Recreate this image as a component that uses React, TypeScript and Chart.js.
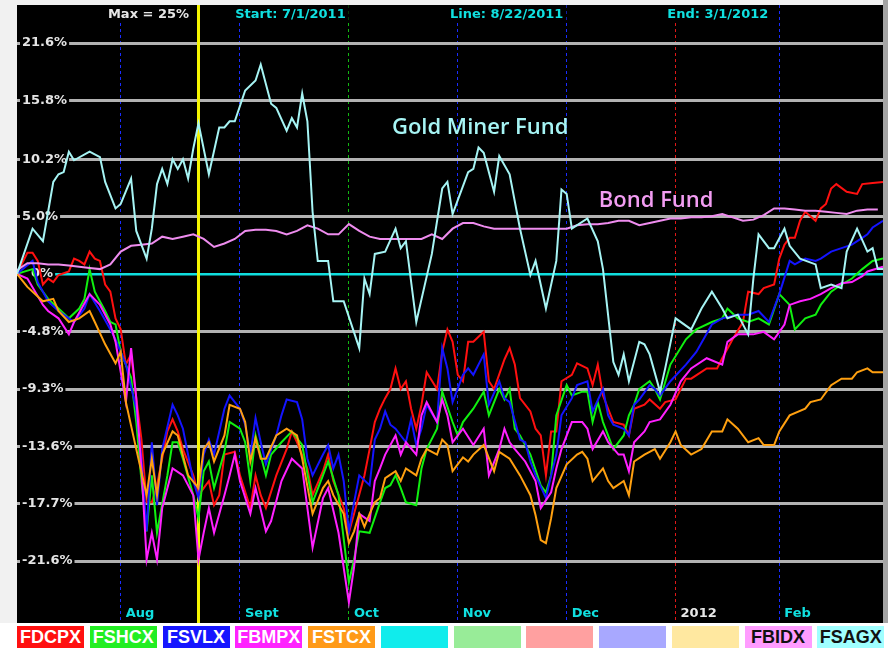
import React, { useEffect, useRef } from "react";
import { Chart, registerables } from "chart.js";
Chart.register(...registerables);

// Trading-day index (0 = 7/1/2011 ... 167 = 3/1/2012) and % change since 7/1/2011,
// each fund read at its own turning points.
const redDays = [
  0, 2, 3, 4, 5, 6, 7, 8, 10, 11, 12, 13, 14, 15, 16, 17, 18, 19, 20, 21,
  22, 23, 24, 25, 26, 27, 29, 30, 31, 32, 34, 35, 36, 37, 38, 39, 40, 42, 43, 45,
  46, 47, 48, 50, 52, 53, 54, 56, 57, 59, 60, 61, 63, 64, 65, 67, 68, 69, 70, 71,
  72, 73, 74, 75, 76, 77, 78, 79, 81, 82, 83, 84, 85, 86, 87, 88, 90, 91, 92, 94,
  95, 96, 97, 99, 100, 101, 102, 103, 104, 105, 107, 108, 110, 111, 112, 113, 115, 117, 118, 119,
  121, 122, 124, 125, 127, 129, 130, 133, 135, 136, 138, 140, 141, 143, 144, 146, 147, 148, 149, 150,
  151, 152, 154, 155, 156, 157, 158, 160, 162, 163, 165, 167,
];
const FDCPX = [
  0.0, 1.8, 1.8, 1.1, -0.9, -0.4, -0.7, -0.1, 0.2, 1.3, 1.1, 0.8, 1.9, 1.3, 1.1, -0.9, -1.5, -3.7, -4.6, -7.4,
  -6.6, -10.0, -13.1, -17.6, -17.6, -16.4, -12.5, -11.6, -12.5, -13.8, -15.7, -17.1, -16.6, -16.1, -17.8, -17.1, -14.2, -14.0, -15.7, -18.0,
  -15.7, -17.1, -18.0, -15.7, -13.8, -12.5, -13.3, -15.2, -17.1, -15.4, -14.2, -16.1, -18.0, -19.7, -18.4, -15.7, -13.8, -11.8, -10.8, -10.0,
  -9.3, -7.7, -9.3, -8.7, -10.8, -12.3, -10.5, -8.0, -9.3, -6.4, -4.6, -5.6, -8.2, -8.7, -5.6, -5.6, -4.8, -8.7, -9.3, -7.0,
  -6.1, -7.4, -10.0, -11.0, -12.3, -12.8, -15.7, -12.5, -12.5, -8.7, -8.2, -7.3, -7.7, -9.0, -7.4, -9.8, -11.8, -12.0, -12.8, -10.8,
  -10.5, -10.1, -10.8, -10.3, -10.1, -8.5, -8.5, -7.7, -7.7, -6.9, -5.4, -4.0, -1.5, -1.7, -1.2, -0.9, 1.3, 2.5, 3.1, 3.1,
  4.6, 5.4, 4.6, 5.7, 6.1, 7.5, 7.9, 7.2, 7.0, 7.9, 8.0, 8.1,
];

const greenDays = [
  0, 3, 4, 6, 8, 10, 12, 13, 14, 15, 17, 18, 19, 20, 22, 23, 24, 25, 26, 27,
  29, 30, 31, 32, 34, 35, 36, 37, 38, 40, 41, 43, 44, 45, 46, 48, 49, 51, 53, 55,
  57, 59, 60, 62, 64, 65, 66, 68, 70, 71, 72, 73, 74, 75, 77, 78, 79, 81, 82, 84,
  85, 86, 88, 90, 91, 93, 94, 95, 96, 97, 99, 101, 102, 103, 104, 106, 107, 109, 110, 111,
  112, 113, 115, 117, 118, 119, 120, 122, 123, 124, 126, 129, 131, 134, 136, 137, 139, 141, 143, 145,
  147, 149, 150, 152, 154, 155, 157, 159, 161, 163, 165, 167,
];
const FSHCX = [
  0.0, 0.4, -0.9, -2.1, -2.9, -3.7, -2.9, -2.1, 0.4, -1.5, -3.1, -4.0, -4.2, -6.4, -8.4, -11.8, -16.1, -19.6, -15.7, -19.7,
  -15.7, -13.3, -13.3, -14.5, -17.1, -18.7, -15.4, -14.7, -16.6, -14.0, -11.8, -12.3, -13.3, -16.1, -12.8, -15.7, -14.2, -13.3, -12.5, -13.5,
  -17.6, -15.7, -14.7, -17.1, -23.0, -21.5, -19.6, -19.7, -17.6, -16.6, -16.4, -15.7, -16.6, -17.6, -17.8, -15.2, -13.8, -12.3, -9.5, -11.8,
  -12.8, -11.8, -10.8, -9.5, -11.3, -9.3, -10.1, -9.3, -12.3, -12.8, -14.2, -16.4, -16.9, -15.7, -11.3, -9.0, -9.8, -9.5, -9.5, -11.8,
  -10.3, -11.8, -13.8, -12.8, -11.3, -10.5, -9.3, -8.7, -9.3, -10.1, -7.4, -5.4, -4.6, -4.0, -3.7, -2.9, -3.7, -4.0, -3.7, -4.2,
  -1.7, -2.6, -4.6, -3.7, -3.4, -2.6, -1.5, -0.9, -0.4, 0.4, 1.1, 1.3,
];

const blueDays = [
  0, 3, 4, 6, 8, 11, 13, 14, 16, 18, 19, 21, 23, 24, 25, 26, 27, 28, 30, 31,
  32, 34, 35, 36, 37, 38, 40, 41, 43, 44, 45, 46, 47, 48, 50, 51, 52, 54, 55, 56,
  57, 59, 60, 61, 62, 63, 64, 65, 66, 68, 69, 70, 71, 72, 73, 75, 76, 77, 78, 79,
  81, 82, 83, 84, 86, 87, 88, 90, 91, 93, 94, 95, 97, 98, 99, 100, 102, 103, 104, 105,
  107, 108, 110, 111, 113, 114, 115, 117, 118, 119, 120, 122, 123, 124, 126, 129, 131, 134, 136, 139,
  141, 143, 145, 147, 149, 150, 152, 154, 155, 157, 159, 161, 163, 164, 165, 167,
];
const FSVLX = [
  0.0, 1.1, -0.7, -2.3, -3.1, -4.0, -2.9, -1.7, -3.1, -4.6, -5.4, -7.4, -10.8, -14.5, -19.6, -13.3, -17.8, -13.8, -10.5, -11.3,
  -12.3, -16.1, -17.3, -14.2, -13.1, -14.2, -10.8, -9.8, -10.8, -12.0, -14.2, -11.5, -13.3, -14.9, -12.8, -11.3, -10.1, -10.3, -11.6, -14.5,
  -15.7, -14.2, -13.5, -15.2, -14.2, -16.1, -19.6, -17.6, -15.7, -16.4, -13.1, -12.3, -11.0, -12.0, -12.3, -13.3, -11.6, -13.5, -12.3, -10.5,
  -11.8, -6.1, -7.7, -10.3, -8.2, -7.7, -8.2, -6.6, -10.5, -8.7, -10.0, -10.3, -13.1, -13.3, -14.7, -15.7, -17.3, -15.7, -14.2, -11.3,
  -10.0, -9.0, -8.7, -11.0, -9.3, -11.3, -12.0, -12.3, -12.8, -10.5, -10.1, -9.0, -9.3, -9.8, -8.7, -7.4, -6.4, -4.2, -3.7, -3.4,
  -3.4, -3.1, -4.0, -1.7, 1.1, 0.8, 1.3, 1.1, 1.3, 1.9, 2.2, 2.5, 3.1, 3.4, 4.0, 4.6,
];

const magentaDays = [
  0, 2, 5, 6, 8, 10, 11, 14, 16, 18, 19, 21, 22, 23, 24, 25, 26, 27, 28, 30,
  32, 34, 35, 36, 37, 38, 40, 41, 42, 43, 45, 46, 48, 49, 51, 53, 55, 57, 59, 60,
  62, 64, 65, 66, 68, 69, 70, 71, 73, 74, 75, 77, 78, 79, 81, 82, 83, 84, 86, 88,
  90, 91, 93, 94, 95, 96, 98, 99, 100, 101, 103, 104, 105, 107, 109, 110, 111, 113, 114, 116,
  117, 118, 119, 121, 122, 124, 126, 128, 130, 133, 136, 137, 139, 142, 144, 146, 148, 149, 151, 153,
  155, 157, 159, 161, 163, 164, 167,
];
const FBMPX = [
  0.0, -0.4, -2.6, -3.1, -3.7, -5.0, -4.0, -1.7, -2.6, -4.2, -5.6, -10.3, -6.1, -10.0, -15.2, -21.5, -19.7, -21.5, -18.0, -15.2,
  -15.7, -17.1, -21.5, -19.7, -18.0, -19.7, -17.1, -15.7, -14.2, -16.1, -18.4, -16.6, -19.6, -18.9, -16.1, -14.5, -15.2, -20.7, -17.3, -16.6,
  -19.7, -24.3, -22.0, -18.4, -18.9, -16.1, -15.2, -14.2, -12.8, -14.2, -13.3, -14.2, -11.3, -10.3, -11.8, -10.1, -11.3, -13.3, -12.3, -13.5,
  -12.3, -15.7, -13.8, -12.3, -13.3, -13.8, -14.7, -15.4, -16.1, -18.0, -16.9, -15.2, -13.8, -11.8, -11.8, -12.3, -13.8, -12.5, -13.3, -14.2,
  -14.2, -15.4, -13.3, -12.5, -11.8, -11.6, -10.5, -8.7, -7.7, -6.9, -7.4, -5.6, -5.0, -5.0, -4.8, -5.4, -4.2, -2.6, -2.3, -2.1,
  -1.7, -1.2, -0.8, -0.7, -0.2, 0.2, 0.6,
];

const orangeDays = [
  0, 2, 5, 7, 8, 10, 12, 14, 15, 17, 19, 20, 21, 23, 25, 26, 27, 28, 30, 31,
  33, 35, 36, 37, 38, 40, 41, 43, 44, 45, 46, 47, 48, 50, 52, 54, 55, 57, 59, 60,
  61, 63, 64, 65, 66, 67, 68, 69, 70, 71, 73, 74, 75, 77, 78, 79, 81, 82, 83, 84,
  86, 87, 88, 90, 92, 93, 95, 97, 99, 100, 101, 102, 103, 104, 106, 108, 109, 110, 111, 113,
  114, 115, 117, 118, 119, 121, 123, 124, 126, 127, 128, 130, 132, 134, 136, 137, 139, 141, 143, 144,
  146, 147, 149, 152, 153, 155, 157, 159, 161, 162, 164, 165, 167,
];
const FSTCX = [
  0.0, -1.1, -2.3, -2.1, -3.1, -4.0, -3.7, -3.1, -4.0, -5.8, -7.3, -6.4, -10.3, -13.8, -17.1, -14.5, -17.1, -14.2, -12.5, -12.8,
  -15.7, -16.6, -13.8, -13.3, -14.7, -12.8, -10.5, -10.8, -11.8, -14.7, -13.0, -14.5, -14.5, -12.8, -12.3, -12.8, -14.5, -18.4, -16.6, -16.1,
  -17.1, -18.4, -20.4, -19.6, -18.4, -19.3, -18.4, -17.6, -17.3, -15.9, -15.4, -16.1, -15.2, -15.7, -14.5, -13.8, -14.2, -13.1, -13.5, -15.4,
  -14.4, -14.7, -14.2, -13.5, -15.4, -14.0, -14.5, -15.7, -17.1, -18.5, -20.2, -20.4, -18.7, -16.6, -14.9, -14.2, -14.0, -14.5, -16.1, -15.2,
  -16.1, -16.6, -16.1, -17.1, -14.7, -14.2, -13.8, -14.5, -13.3, -12.5, -13.5, -14.2, -13.8, -12.5, -12.5, -11.6, -12.3, -13.3, -13.0, -13.5,
  -13.5, -12.5, -11.3, -10.8, -10.3, -10.1, -9.0, -8.5, -8.5, -8.0, -7.7, -8.0, -8.0,
];

const bondDays = [
  0, 2, 4, 6, 8, 10, 12, 14, 16, 18, 20, 22, 24, 26, 28, 30, 32, 34, 36, 38,
  40, 42, 44, 46, 48, 50, 52, 54, 56, 58, 60, 62, 64, 66, 68, 70, 72, 74, 76, 78,
  80, 82, 84, 86, 88, 90, 92, 94, 96, 98, 100, 102, 104, 106, 108, 110, 112, 114, 116, 118,
  120, 122, 124, 126, 128, 130, 132, 134, 136, 138, 140, 142, 144, 146, 148, 150, 152, 154, 156, 158,
  160, 162, 164, 166,
];
const FBIDX = [
  0.3, 0.9, 0.9, 0.8, 0.8, 0.7, 0.6, 0.5, 0.4, 0.8, 1.9, 2.4, 2.5, 2.6, 3.2, 3.0, 3.2, 3.4, 3.0, 2.3,
  2.6, 3.0, 3.7, 3.8, 3.8, 3.7, 3.4, 3.7, 4.2, 3.9, 3.4, 3.4, 4.3, 3.7, 3.2, 3.0, 3.0, 3.0, 3.0, 3.0,
  3.4, 3.0, 3.9, 4.4, 4.4, 4.1, 3.9, 3.9, 3.9, 3.9, 3.9, 3.9, 3.9, 3.9, 4.2, 4.3, 4.3, 4.4, 4.6, 4.6,
  4.2, 4.4, 4.6, 4.8, 4.8, 4.9, 4.9, 5.0, 5.2, 4.9, 4.6, 4.7, 5.1, 5.7, 5.7, 5.6, 5.5, 5.5, 5.4, 5.3,
  5.2, 5.5, 5.6, 5.6,
];

const goldDays = [
  0, 3, 5, 6, 7, 8, 9, 10, 11, 14, 16, 17, 19, 20, 22, 23, 25, 26, 27, 28,
  29, 30, 31, 32, 33, 34, 35, 37, 39, 40, 41, 42, 44, 46, 47, 49, 50, 52, 53, 54,
  55, 56, 57, 58, 60, 61, 63, 66, 67, 68, 69, 71, 73, 74, 75, 77, 80, 82, 83, 84,
  87, 88, 89, 90, 92, 93, 95, 97, 99, 100, 102, 104, 105, 106, 107, 110, 112, 113, 115, 116,
  117, 118, 120, 121, 122, 124, 125, 127, 130, 132, 134, 136, 137, 139, 141, 142, 143, 145, 146, 148,
  149, 151, 154, 155, 157, 159, 160, 162, 164, 165, 166, 167,
];
const FSAGX = [
  0.0, 3.9, 2.8, 5.4, 8.1, 8.8, 9.0, 10.9, 10.1, 10.9, 10.4, 8.1, 5.7, 6.1, 8.4, 3.7, 1.3, 3.9, 7.9, 9.3,
  7.9, 10.2, 9.3, 10.2, 8.4, 11.2, 13.6, 8.8, 13.2, 13.2, 13.8, 13.8, 16.8, 17.8, 19.4, 15.5, 15.1, 12.9, 14.1, 13.2,
  16.5, 13.8, 5.4, 1.1, 1.1, -2.3, -2.3, -6.1, -0.4, -1.7, 1.7, 1.9, 3.9, 2.2, 2.8, -4.0, 1.7, 7.5, 8.1, 5.2,
  9.0, 9.3, 11.3, 10.8, 7.2, 10.5, 8.8, 3.9, -0.1, 1.1, -2.9, 1.1, 7.4, 7.0, 3.9, 4.8, 2.8, 0.4, -7.2, -8.2,
  -6.6, -8.7, -5.6, -5.8, -6.6, -9.5, -7.7, -3.7, -4.6, -2.9, -1.5, -2.9, -3.7, -3.4, -5.0, -0.4, 3.4, 2.2, 2.2, 3.9,
  2.4, 1.3, 0.8, -1.2, -0.9, -1.2, 1.9, 3.9, 1.9, 2.2, 0.4, 0.4,
];

const yTickPct = [21.6, 15.8, 10.2, 5.0, 0, -4.8, -9.3, -13.6, -17.7, -21.6];
const yTickLabels = ["21.6%", "15.8%", "10.2%", "5.0%", "  0%", "-4.8%", "-9.3%", "-13.6%", "-17.7%", "-21.6%"];
const monthDays = [20, 43, 64, 85, 106, 127, 147];
const monthLabels = ["Aug", "Sept", "Oct", "Nov", "Dec", "2012", "Feb"];
const lineDay = 35; // 8/22/2011
const lastDay = 167; // 3/1/2012
const headerTexts = ["Max = 25%", "Start: 7/1/2011", "Line: 8/22/2011", "End: 3/1/2012"];
const annotations = [
  { text: "Gold Miner Fund", day: 72.3, pct: 13.2 },
  { text: "Bond Fund", day: 112.2, pct: 6.4 },
];
const legendLabels = ["FDCPX", "FSHCX", "FSVLX", "FBMPX", "FSTCX", "", "", "", "", "", "FBIDX", "FSAGX"];

// styles
const seriesStyle = [
  { label: "FSAGX", days: goldDays, data: FSAGX, color: "#a6f4f4" },
  { label: "FBIDX", days: bondDays, data: FBIDX, color: "#ee8cee" },
  { label: "FSTCX", days: orangeDays, data: FSTCX, color: "#ffa010" },
  { label: "FBMPX", days: magentaDays, data: FBMPX, color: "#ff20ff" },
  { label: "FSVLX", days: blueDays, data: FSVLX, color: "#1414ff" },
  { label: "FSHCX", days: greenDays, data: FSHCX, color: "#10f010" },
  { label: "FDCPX", days: redDays, data: FDCPX, color: "#ff1010" },
];
const monthGridColors = ["#1a2cff", "#1a2cff", "#12b812", "#1a2cff", "#1a2cff", "#e01818", "#1a2cff"];
const monthLabelColors = ["#10e0e0", "#10e0e0", "#10e0e0", "#10e0e0", "#10e0e0", "#e8e8e8", "#10e0e0"];
const headerColors = ["#e6e6e6", "#10e0e0", "#10e0e0", "#10e0e0"];
const headerFrac = [0.105, 0.252, 0.5, 0.751];
const annColors = ["#a6f4f4", "#f29cf2"];
const legendBg = ["#ff1010", "#22ee22", "#1616ff", "#ff22ff", "#ff9a18", "#10ecec", "#98ec98", "#ffa0a0", "#a8a8ff", "#ffe8a0", "#ff9cff", "#a0ffff"];
const legendFg = ["#fff", "#fff", "#fff", "#fff", "#fff", "#fff", "#fff", "#fff", "#fff", "#fff", "#111", "#111"];

const Y_MIN = 74.39;
const Y_MAX = 125.58;
const FONT = '"DejaVu Sans", sans-serif';

const overlayPlugin = {
  id: "overlay",
  beforeDatasetsDraw(chart: any) {
    const { ctx, chartArea, scales } = chart;
    const x = scales.x;
    const y = scales.y;
    ctx.save();
    ctx.font = `bold 13px ${FONT}`;
    ctx.textBaseline = "middle";
    ctx.textAlign = "left";
    const w = chartArea.right - chartArea.left;
    headerTexts.forEach((t: string, i: number) => {
      const px = chartArea.left + headerFrac[i] * w;
      const tw = ctx.measureText(t).width;
      ctx.fillStyle = "#000";
      ctx.fillRect(px - 3, 0, tw + 6, 17);
      ctx.fillStyle = headerColors[i];
      ctx.fillText(t, px, 10);
    });
    monthDays.forEach((d: number, i: number) => {
      const px = x.getPixelForValue(d);
      ctx.fillStyle = monthLabelColors[i];
      ctx.fillText(monthLabels[i], px + 5, chartArea.bottom - 9);
    });
    ctx.font = `600 22px "Open Sans", sans-serif`;
    annotations.forEach((a, i) => {
      ctx.fillStyle = annColors[i];
      ctx.fillText(a.text, x.getPixelForValue(a.day), y.getPixelForValue(100 + a.pct));
    });
    ctx.restore();
  },
};

export default function App() {
  const ref = useRef<HTMLCanvasElement | null>(null);
  useEffect(() => {
    document.body.style.margin = "0";
    const canvas = ref.current;
    if (!canvas) return;
    const datasets: any[] = seriesStyle.map((s, i) => ({
      label: s.label,
      data: s.data.map((v, k) => ({ x: s.days[k], y: 100 + v })),
      borderColor: s.color,
      borderWidth: 2,
      pointRadius: 0,
      tension: 0,
      fill: false,
      order: i,
    }));
    datasets.push({
      label: "line",
      data: [
        { x: lineDay, y: Y_MIN },
        { x: lineDay, y: Y_MAX },
      ],
      borderColor: "#f4f400",
      borderWidth: 3,
      pointRadius: 0,
      fill: false,
      order: 100,
    });
    const chart = new Chart(canvas, {
      type: "line",
      data: { datasets },
      options: {
        animation: false,
        responsive: false,
        maintainAspectRatio: false,
        layout: { padding: 0 },
        plugins: { legend: { display: false }, tooltip: { enabled: false }, title: { display: false } },
        scales: {
          x: {
            type: "linear",
            min: 0,
            max: lastDay,
            bounds: "data",
            afterBuildTicks: (s: any) => {
              s.ticks = monthDays.map((v) => ({ value: v }));
            },
            afterFit: (s: any) => {
              s.height = 0;
              s.paddingLeft = 0;
              s.paddingRight = 0;
            },
            ticks: { display: false },
            grid: {
              drawTicks: false,
              lineWidth: 1,
              color: (c: any) => monthGridColors[monthDays.indexOf(c.tick?.value)] || "#1a2cff",
            },
            border: { display: false, dash: [3, 3] },
          },
          y: {
            type: "logarithmic",
            min: Y_MIN,
            max: Y_MAX,
            bounds: "data",
            afterBuildTicks: (s: any) => {
              s.ticks = yTickPct.map((p) => ({ value: 100 + p }));
            },
            afterFit: (s: any) => {
              s.width = 0;
              s.paddingTop = 0;
              s.paddingBottom = 0;
            },
            ticks: {
              mirror: true,
              padding: 5,
              autoSkip: false,
              color: "#e4e4e4",
              font: { family: FONT, weight: "bold", size: 13 },
              callback: (_v: any, i: number) => yTickLabels[i],
              showLabelBackdrop: true,
              backdropColor: "#000",
              backdropPadding: { left: 2, right: 2, top: 1, bottom: 1 },
            },
            grid: {
              drawTicks: false,
              lineWidth: (c: any) => (c.tick && c.tick.value === 100 ? 2.5 : 3),
              color: (c: any) => (c.tick && c.tick.value === 100 ? "#10dede" : "#b2b2b2"),
            },
            border: { display: false },
          },
        },
      } as any,
      plugins: [overlayPlugin],
    });
    return () => chart.destroy();
  }, []);

  return (
    <div style={{ position: "fixed", left: 0, top: 0, width: 888, height: 648, background: "#f1f1f1", overflow: "hidden" }}>
      <canvas
        ref={ref}
        width={866}
        height={618}
        style={{ position: "absolute", left: 17, top: 5, width: 866, height: 618, background: "#000" }}
      />
      <div style={{ position: "absolute", left: 883, top: 0, width: 5, height: 648, background: "#a4a4a4" }} />
      <div style={{ position: "absolute", left: 0, top: 623, width: 888, height: 25, background: "#ffffff" }}>
        {legendLabels.map((lab, i) => (
          <div
            key={i}
            style={{
              position: "absolute",
              left: 17 + i * 72.75,
              top: 3,
              width: 67,
              height: 24,
              background: legendBg[i],
              color: legendFg[i],
              font: 'bold 18px "Liberation Sans", sans-serif',
              lineHeight: "22px",
              textAlign: "center",
              overflow: "hidden",
            }}
          >
            {lab}
          </div>
        ))}
      </div>
    </div>
  );
}
